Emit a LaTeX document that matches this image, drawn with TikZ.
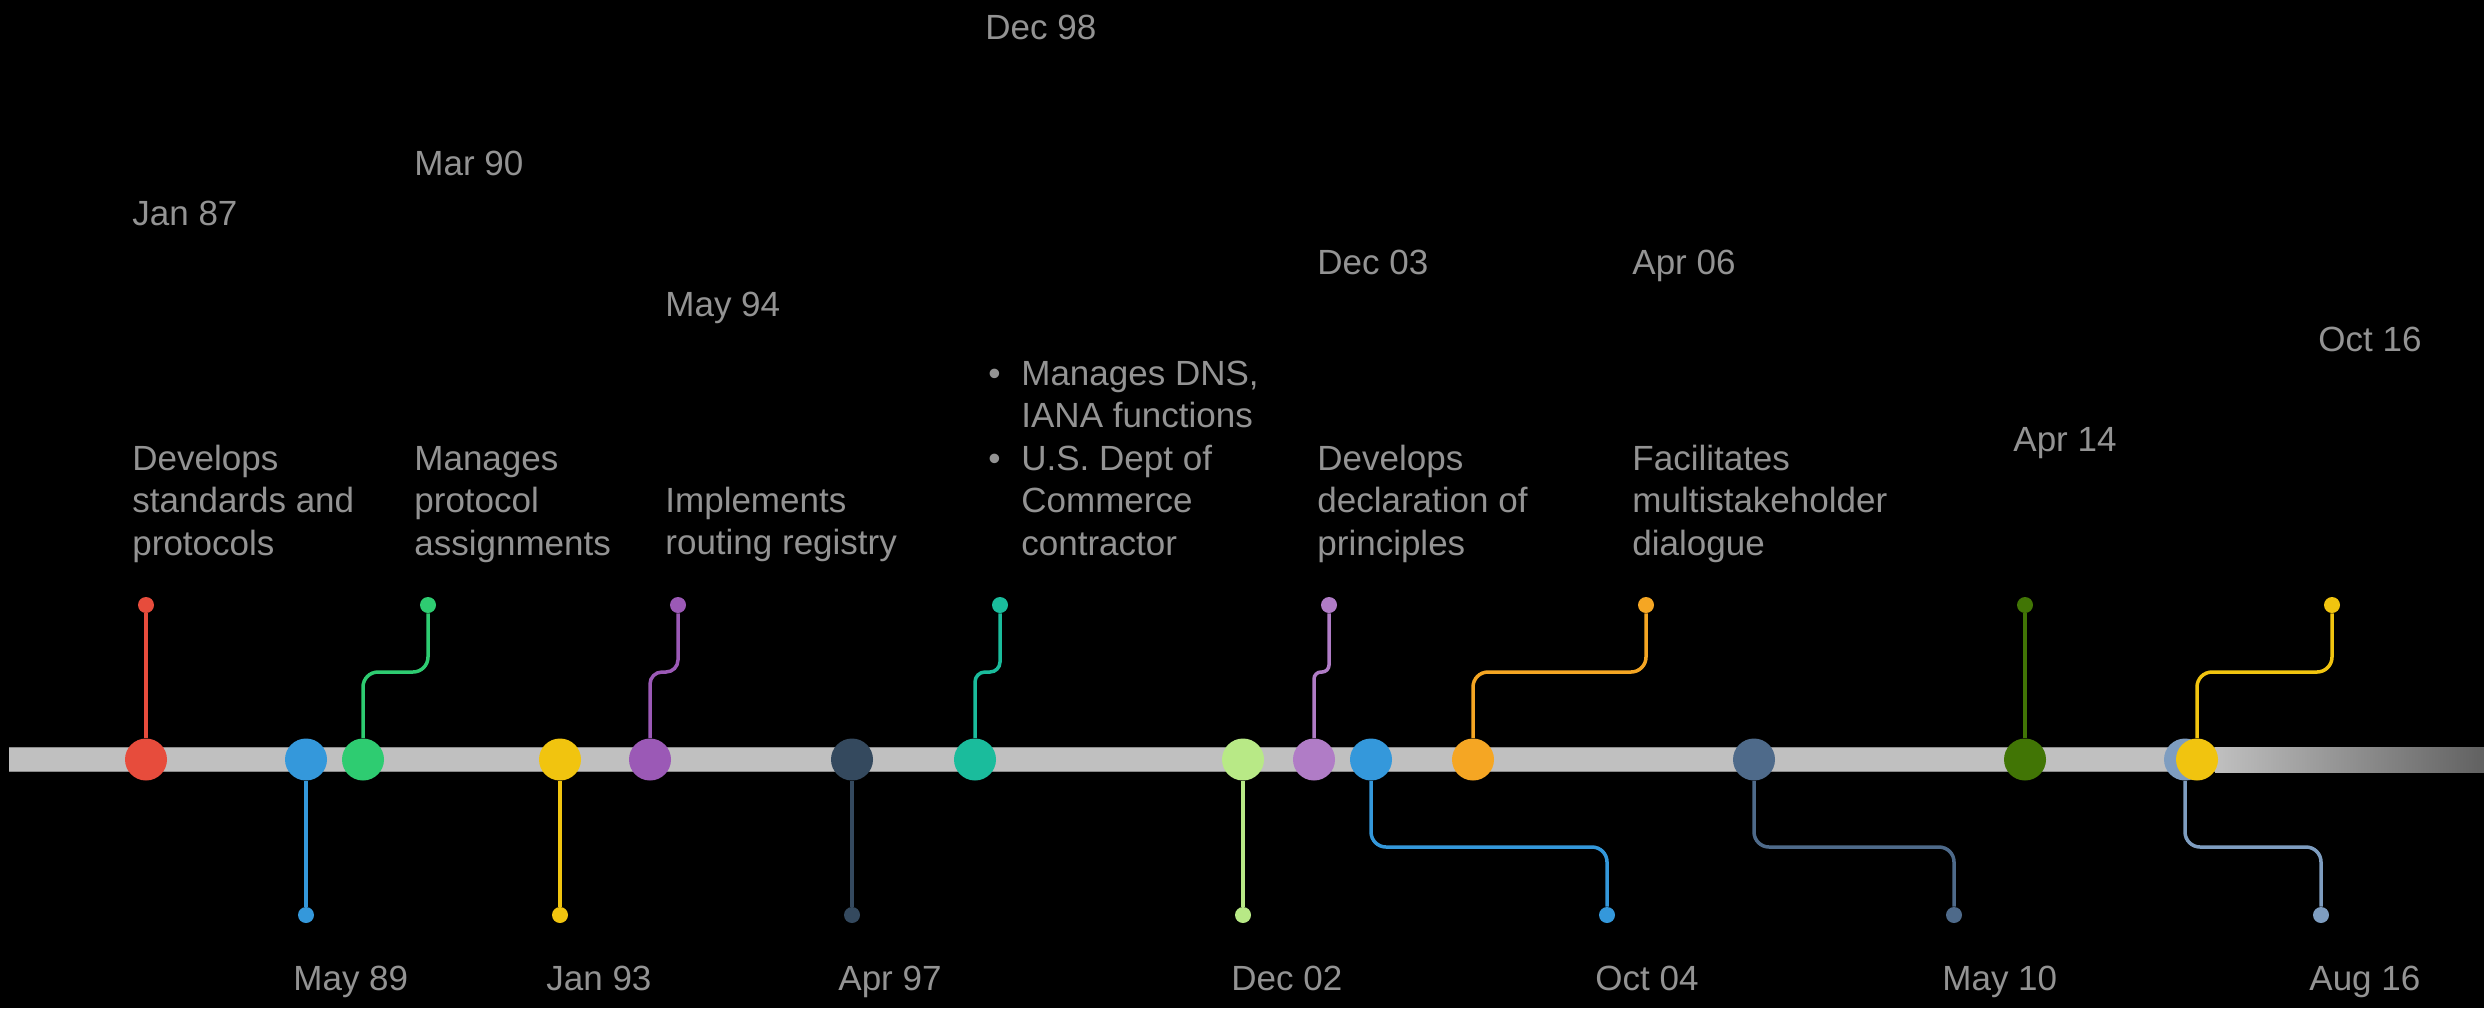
\documentclass[tikz,border=0pt]{standalone}
\usepackage{fontspec}
\setmainfont{Liberation Sans}
\definecolor{txtgray}{HTML}{939393}
\definecolor{barc}{HTML}{C0C0C0}
\definecolor{baredge}{HTML}{8C8C8C}
\definecolor{cred}{HTML}{E74C3C}
\definecolor{cblue}{HTML}{3498DB}
\definecolor{cgreen}{HTML}{2ECC71}
\definecolor{cyellow}{HTML}{F1C40F}
\definecolor{cpurple}{HTML}{9B59B6}
\definecolor{cnavy}{HTML}{34495E}
\definecolor{cteal}{HTML}{1ABC9C}
\definecolor{clime}{HTML}{B8E986}
\definecolor{clav}{HTML}{B07CC6}
\definecolor{corange}{HTML}{F5A623}
\definecolor{cslate}{HTML}{4E6A8A}
\definecolor{cdgreen}{HTML}{417505}
\definecolor{csteel}{HTML}{7E9DC0}
\begin{document}
\begin{tikzpicture}[x=0.5pt,y=-0.5pt,
  bigdot/.style={circle, inner sep=0pt, minimum size=21pt, fill=#1},
  enddot/.style={circle, inner sep=0pt, minimum size=8pt, fill=#1},
  conn/.style={draw=#1, line width=1.75pt},
  lbl/.style={anchor=base west, inner sep=0pt, text=txtgray, font=\fontsize{17.5}{21.25}\selectfont}]
% background
\fill[black] (0,0) rectangle (2484,1008);
\useasboundingbox (0,0) rectangle (2484,1008);
% bar
\fill[barc] (9,747) rectangle (2216,772);
\shade[left color=barc, right color=black!62!white] (2215,747) rectangle (2484,772);
\draw[baredge, line width=0.5pt] (9,747.5) -- (2215,747.5) (9,771.5) -- (2215,771.5);
% big dots
\node[bigdot=cred] (d1) at (146,759.5) {};
\node[bigdot=cblue] (d2) at (306,759.5) {};
\node[bigdot=cgreen] (d3) at (363,759.5) {};
\node[bigdot=cyellow] (d4) at (560,759.5) {};
\node[bigdot=cpurple] (d5) at (650,759.5) {};
\node[bigdot=cnavy] (d6) at (852,759.5) {};
\node[bigdot=cteal] (d7) at (975,759.5) {};
\node[bigdot=clime] (d8) at (1243,759.5) {};
\node[bigdot=clav] (d9) at (1314,759.5) {};
\node[bigdot=cblue] (d10) at (1371,759.5) {};
\node[bigdot=corange] (d11) at (1473,759.5) {};
\node[bigdot=cslate] (d12) at (1754,759.5) {};
\node[bigdot=cdgreen] (d13) at (2025,759.5) {};
\node[bigdot=csteel] (d14) at (2185,759.5) {};
\node[bigdot=cyellow] (d15) at (2197,759.5) {};
% end dots
\node[enddot=cred] (e1) at (146,605) {};
\node[enddot=cblue] (e2) at (306,915) {};
\node[enddot=cgreen] (e3) at (428,605) {};
\node[enddot=cyellow] (e4) at (560,915) {};
\node[enddot=cpurple] (e5) at (678,605) {};
\node[enddot=cnavy] (e6) at (852,915) {};
\node[enddot=cteal] (e7) at (1000,605) {};
\node[enddot=clime] (e8) at (1243,915) {};
\node[enddot=clav] (e9) at (1329,605) {};
\node[enddot=cblue] (e10) at (1607,915) {};
\node[enddot=corange] (e11) at (1646,605) {};
\node[enddot=cslate] (e12) at (1954,915) {};
\node[enddot=cdgreen] (e13) at (2025,605) {};
\node[enddot=csteel] (e14) at (2321,915) {};
\node[enddot=cyellow] (e15) at (2332,605) {};
% connectors
\draw[conn=cred] (d1) -- (e1);
\draw[conn=cblue] (d2) -- (e2);
\draw[conn=cgreen, rounded corners=7.5pt] (d3.north) -- (d3.north |- 0,672) -| (e3.south);
\draw[conn=cyellow] (d4) -- (e4);
\draw[conn=cpurple, rounded corners=6pt] (d5.north) -- (d5.north |- 0,672) -| (e5.south);
\draw[conn=cnavy] (d6) -- (e6);
\draw[conn=cteal, rounded corners=5pt] (d7.north) -- (d7.north |- 0,672) -| (e7.south);
\draw[conn=clime] (d8) -- (e8);
\draw[conn=clav, rounded corners=3.5pt] (d9.north) -- (d9.north |- 0,672) -| (e9.south);
\draw[conn=cblue, rounded corners=7.5pt] (d10.south) -- (d10.south |- 0,847) -| (e10.north);
\draw[conn=corange, rounded corners=7.5pt] (d11.north) -- (d11.north |- 0,672) -| (e11.south);
\draw[conn=cslate, rounded corners=7.5pt] (d12.south) -- (d12.south |- 0,847) -| (e12.north);
\draw[conn=cdgreen] (d13) -- (e13);
\draw[conn=csteel, rounded corners=7.5pt] (d14.south) -- (d14.south |- 0,847) -| (e14.north);
\draw[conn=cyellow, rounded corners=7.5pt] (d15.north) -- (d15.north |- 0,672) -| (e15.south);
% date labels top
\node[lbl] (t1) at (132,225) {Jan 87};
\node[lbl] (t3) at (414,175) {Mar 90};
\node[lbl] (t5) at (665,316) {May 94};
\node[lbl] (t7) at (985,39) {Dec 98};
\node[lbl] (t9) at (1317,274) {Dec 03};
\node[lbl] (t11) at (1632,274) {Apr 06};
\node[lbl] (t13) at (2013,451) {Apr 14};
\node[lbl] (t15) at (2318,351) {Oct 16};
% date labels bottom
\node[lbl] (b2) at (293,990) {May 89};
\node[lbl] (b4) at (546,990) {Jan 93};
\node[lbl] (b6) at (838,990) {Apr 97};
\node[lbl] (b8) at (1231,990) {Dec 02};
\node[lbl] (b10) at (1595,990) {Oct 04};
\node[lbl] (b12) at (1942,990) {May 10};
\node[lbl] (b14) at (2309,990) {Aug 16};
% descriptions
\node[lbl] (x1) at (132,470) {\begin{tabular}[t]{@{}l@{}}Develops\\standards and\\protocols\end{tabular}};
\node[lbl] (x3) at (414,470) {\begin{tabular}[t]{@{}l@{}}Manages\\protocol\\assignments\end{tabular}};
\node[lbl] (x5) at (665,512) {\begin{tabular}[t]{@{}l@{}}Implements\\routing registry\end{tabular}};
\node[lbl] (x7) at (988,385) {\begin{tabular}[t]{@{}l@{}}\makebox[16.5pt][l]{•}Manages DNS,\\\hspace*{16.5pt}IANA functions\\\makebox[16.5pt][l]{•}U.S. Dept of\\\hspace*{16.5pt}Commerce\\\hspace*{16.5pt}contractor\end{tabular}};
\node[lbl] (x9) at (1317,470) {\begin{tabular}[t]{@{}l@{}}Develops\\declaration of\\principles\end{tabular}};
\node[lbl] (x11) at (1632,470) {\begin{tabular}[t]{@{}l@{}}Facilitates\\multistakeholder\\dialogue\end{tabular}};
\end{tikzpicture}
\end{document}
